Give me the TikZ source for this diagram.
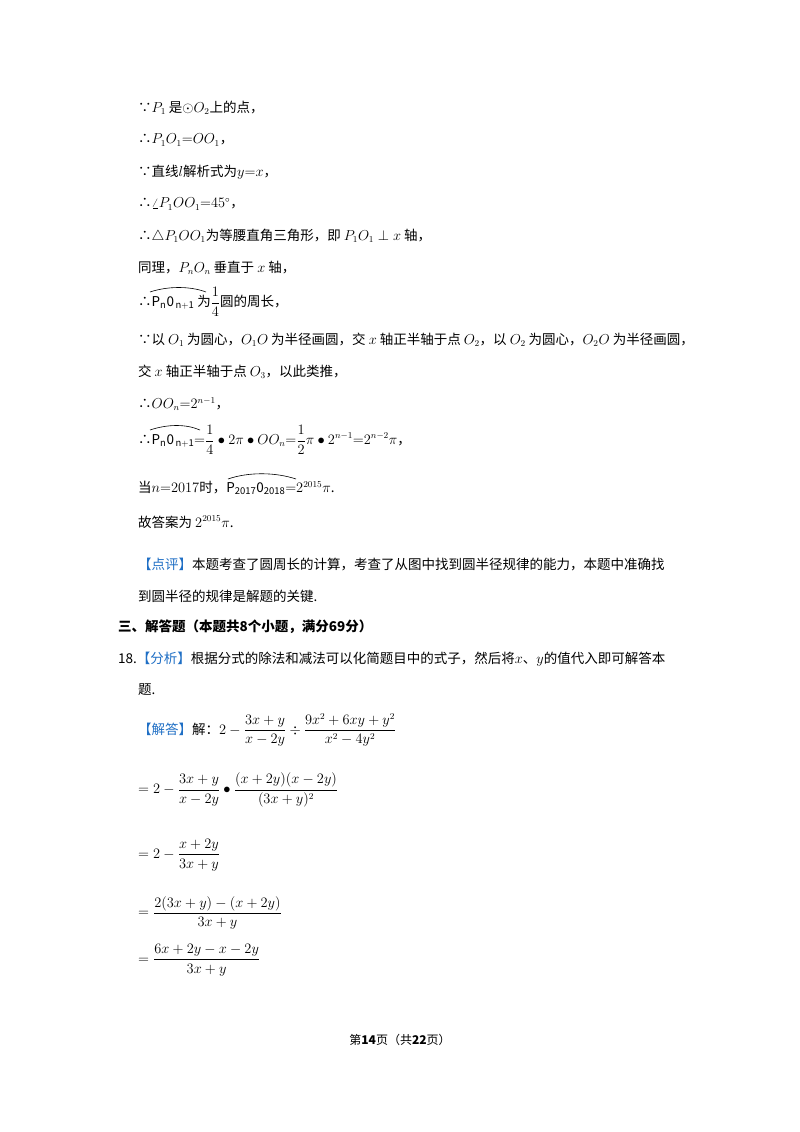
\documentclass[tikz,border=0pt]{standalone}
\usepackage{amsmath}
\usepackage{fontspec}
\setmainfont{Noto Sans CJK SC}
\definecolor{tagblue}{HTML}{1F6FC5}
\begin{document}
\begin{tikzpicture}[x=1pt,y=-1pt,
  ln/.style={anchor=west,inner sep=0pt,font=\fontsize{13.5}{16}\selectfont},
  arcover/.style={line width=0.6pt}]
\fill[white] (0,0) rectangle (800,1132);
\useasboundingbox (0,0) rectangle (800,1132);
\node[ln] (l1) at (138,108) {∵$P_1$ 是$\odot O_2$上的点，};
\node[ln] (l2) at (138,140) {∴$P_1O_1{=}OO_1$，};
\node[ln] (l3) at (138,172) {∵直线$l$解析式为$y{=}x$，};
\node[ln] (l4) at (138,204) {∴$\angle P_1OO_1{=}45^\circ$，};
\node[ln] (l5) at (138,236) {∴$\triangle P_1OO_1$为等腰直角三角形，即 $P_1O_1\perp x$ 轴，};
\node[ln] (l6) at (138,268) {同理，$P_nO_n$ 垂直于 $x$ 轴，};
\node[ln] (l7) at (138,302) {∴$\mathrm{P_n0_{\,n+1}}$ 为$\displaystyle\frac{1}{4}$圆的周长，};
\draw[arcover] (150,292) .. controls (168,286) and (190,286) .. (206,292);
\node[ln] (l8) at (138,340) {∵以 $O_1$ 为圆心，$O_1O$ 为半径画圆，交 $x$ 轴正半轴于点 $O_2$，以 $O_2$ 为圆心，$O_2O$ 为半径画圆，};
\node[ln] (l9) at (138,372) {交 $x$ 轴正半轴于点 $O_3$，以此类推，};
\node[ln] (l10) at (138,404) {∴$OO_n{=}2^{n-1}$，};
\node[ln] (l11) at (138,440) {∴$\mathrm{P_n0_{\,n+1}}{=}\displaystyle\frac{1}{4}\bullet 2\pi\bullet OO_n{=}\frac{1}{2}\pi\bullet 2^{n-1}{=}2^{n-2}\pi$，};
\draw[arcover] (150,430) .. controls (168,424) and (186,424) .. (200,430);
\node[ln] (l12) at (138,488) {当$n{=}2017$时，$\mathrm{P_{2017}0_{2018}}{=}2^{2015}\pi$.};
\draw[arcover] (228,479) .. controls (248,472) and (275,472) .. (296,479);
\node[ln] (l13) at (138,522) {故答案为 $2^{2015}\pi$.};
\node[ln] (l14) at (138,565) {\textcolor{tagblue}{【点评】}本题考查了圆周长的计算，考查了从图中找到圆半径规律的能力，本题中准确找};
\node[ln] (l15) at (138,596) {到圆半径的规律是解题的关键.};
\node[ln] (l16) at (118,627) {\textbf{三、解答题（本题共8个小题，满分69分）}};
\node[ln] (l17) at (118,659) {18.\textcolor{tagblue}{【分析】}根据分式的除法和减法可以化简题目中的式子，然后将$x$、$y$的值代入即可解答本};
\node[ln] (l18) at (138,690) {题.};
\node[ln] (l19) at (138,730) {\textcolor{tagblue}{【解答】}解：$2-\displaystyle\frac{3x+y}{x-2y}\div\frac{9x^2+6xy+y^2}{x^2-4y^2}$};
\node[ln] (l20) at (138,790) {$={}2-\displaystyle\frac{3x+y}{x-2y}\bullet\frac{(x+2y)(x-2y)}{(3x+y)^2}$};
\node[ln] (l21) at (138,855) {$={}2-\displaystyle\frac{x+2y}{3x+y}$};
\node[ln] (l22) at (138,913) {$=\displaystyle\frac{2(3x+y)-(x+2y)}{3x+y}$};
\node[ln] (l23) at (138,960) {$=\displaystyle\frac{6x+2y-x-2y}{3x+y}$};
\node[ln,anchor=center] (foot) at (400,1040) {\fontsize{12}{14}\selectfont 第\textbf{14}页（共\textbf{22}页）};
\end{tikzpicture}
\end{document}
